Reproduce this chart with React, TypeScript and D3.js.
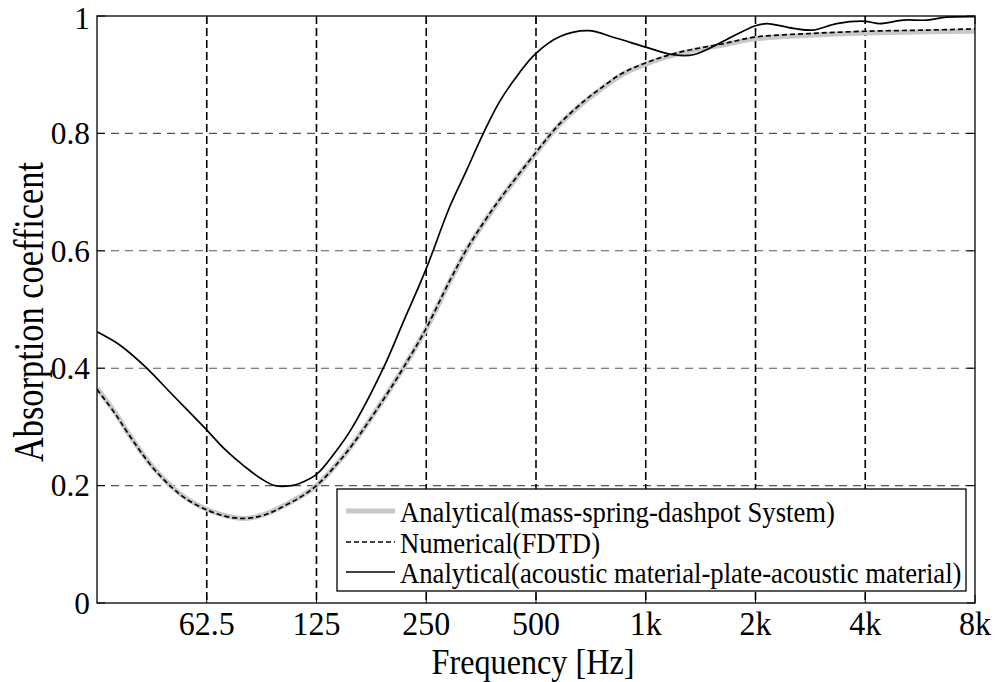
import React from "react";
import * as d3 from "d3";

const xTicks = [62.5, 125, 250, 500, 1000, 2000, 4000, 8000];
const xTickLabels = ["62.5", "125", "250", "500", "1k", "2k", "4k", "8k"];
const yTicks = [0, 0.2, 0.4, 0.6, 0.8, 1];
const yTickLabels = ["0", "0.2", "0.4", "0.6", "0.8", "1"];

const seriesNames = [
  "Analytical(mass-spring-dashpot System)",
  "Numerical(FDTD)",
  "Analytical(acoustic material-plate-acoustic material)",
];

const massSpring: [number, number][] = [
  [31.25, 0.366], [35, 0.325], [38.1, 0.289], [44, 0.235], [50.1, 0.198], [55, 0.178],
  [61.8, 0.161], [70, 0.149], [79.6, 0.144], [90, 0.151], [100.3, 0.164], [112.7, 0.181],
  [125, 0.2], [140, 0.232], [157, 0.27], [190, 0.345], [216, 0.4], [249, 0.465],
  [290, 0.548], [323, 0.602], [360, 0.648], [398, 0.687], [499, 0.766], [582, 0.816],
  [680, 0.854], [749, 0.874], [860, 0.9], [999, 0.918], [1216, 0.935], [1668, 0.952],
  [1990, 0.961], [2800, 0.967], [3988, 0.971], [5897, 0.973], [8000, 0.974],
];

const numericalFDTD: [number, number][] = [
  [31.25, 0.364], [35, 0.323], [38.1, 0.288], [44, 0.234], [50.1, 0.197], [55, 0.177],
  [61.8, 0.16], [70, 0.148], [79.6, 0.144], [90, 0.15], [100.3, 0.163], [112.7, 0.18],
  [125, 0.2], [140, 0.232], [157, 0.27], [190, 0.345], [216, 0.4], [249, 0.466],
  [290, 0.549], [323, 0.603], [360, 0.649], [398, 0.688], [499, 0.767], [582, 0.817],
  [680, 0.856], [749, 0.876], [860, 0.902], [999, 0.92], [1216, 0.937], [1668, 0.954],
  [1990, 0.964], [2800, 0.97], [3988, 0.974], [5897, 0.976], [8000, 0.978],
];

const plateModel: [number, number][] = [
  [31.25, 0.462], [36, 0.44], [42.3, 0.403], [50.1, 0.356], [61.8, 0.298], [70, 0.262],
  [79.6, 0.232], [88, 0.212], [96.2, 0.2], [106.9, 0.2], [112.7, 0.204], [125, 0.219],
  [140, 0.255], [156, 0.297], [190.6, 0.4], [216, 0.478], [249, 0.567], [290, 0.675],
  [323, 0.738], [358.5, 0.8], [398, 0.855], [450, 0.903], [499, 0.936], [582, 0.965],
  [696, 0.975], [832, 0.962], [999, 0.947], [1190, 0.934], [1350, 0.934], [1668, 0.96],
  [1990, 0.983], [2147, 0.987], [2540, 0.979], [2882, 0.976], [3340, 0.987], [3988, 0.991],
  [4390, 0.987], [5088, 0.993], [5897, 0.993], [6690, 0.998], [8000, 0.999],
];

const W = 1001;
const H = 682;
const L = 97;
const R = 975;
const T = 16;
const B = 603;
const FONT = "'Liberation Serif', 'Times New Roman', serif";

function SText(props: {
  x: number;
  y: number;
  sx: number;
  size: number;
  anchor?: string;
  rotate?: number;
  dy?: string;
  children: React.ReactNode;
}) {
  const { x, y, sx, size, anchor, rotate, dy, children } = props;
  return (
    <text
      transform={`translate(${x},${y})${rotate ? ` rotate(${rotate})` : ""} scale(${sx},1)`}
      textAnchor={anchor || "start"}
      fontSize={size}
      dy={dy}
      fill="#000"
    >
      {children}
    </text>
  );
}

export default function App() {
  const x = d3.scaleLog().domain([31.25, 8000]).range([L, R]);
  const y = d3.scaleLinear().domain([0, 1]).range([B, T]);
  const line = d3
    .line<[number, number]>()
    .x((d) => x(d[0]))
    .y((d) => y(d[1]))
    .curve(d3.curveCatmullRom.alpha(0.5));

  const legX = 337;
  const legY = 489;
  const legW = 629;
  const legH = 102;
  const rowY = [511, 542, 572];
  const ySize = 32;

  return (
    <svg
      width={W}
      height={H}
      style={{ position: "absolute", left: 0, top: 0, background: "#fff" }}
      fontFamily={FONT}
    >
      <defs>
        <clipPath id="plotclip">
          <rect x={L} y={T} width={R - L} height={B - T} />
        </clipPath>
      </defs>
      <rect x={0} y={0} width={W} height={H} fill="#fff" />
      {yTicks.slice(1, -1).map((v) => (
        <line
          key={"hg" + v}
          x1={L}
          x2={R}
          y1={y(v)}
          y2={y(v)}
          stroke="#555"
          strokeWidth={1.1}
          strokeDasharray="8,6"
        />
      ))}
      {xTicks.slice(0, -1).map((v) => (
        <line
          key={"vg" + v}
          x1={x(v)}
          x2={x(v)}
          y1={T}
          y2={B}
          stroke="#000"
          strokeWidth={1.6}
          strokeDasharray="8,4"
        />
      ))}
      <g clipPath="url(#plotclip)" fill="none">
        <path d={line(massSpring) || ""} stroke="#c8c8c8" strokeWidth={5} />
        <path d={line(numericalFDTD) || ""} stroke="#000" strokeWidth={1.7} strokeDasharray="5,3" />
        <path d={line(plateModel) || ""} stroke="#000" strokeWidth={1.7} />
      </g>
      {xTicks.map((v) => (
        <g key={"xt" + v}>
          <line x1={x(v)} x2={x(v)} y1={B} y2={B - 8} stroke="#000" strokeWidth={1} />
          <line x1={x(v)} x2={x(v)} y1={T} y2={T + 8} stroke="#000" strokeWidth={1} />
        </g>
      ))}
      {yTicks.map((v) => (
        <g key={"yt" + v}>
          <line x1={L} x2={L + 8} y1={y(v)} y2={y(v)} stroke="#000" strokeWidth={1} />
          <line x1={R} x2={R - 8} y1={y(v)} y2={y(v)} stroke="#000" strokeWidth={1} />
        </g>
      ))}
      <rect x={L} y={T} width={R - L} height={B - T} fill="none" stroke="#000" strokeWidth={1.3} />
      {xTicks.map((v, i) => (
        <SText key={"xl" + v} x={x(v)} y={635} sx={0.94} size={34} anchor="middle">
          {xTickLabels[i]}
        </SText>
      ))}
      {yTicks.map((v, i) => (
        <SText
          key={"yl" + v}
          x={90}
          y={Math.max(y(v) + 0.338 * ySize, 0.9 * ySize)}
          sx={0.98}
          size={ySize}
          anchor="end"
        >
          {yTickLabels[i]}
        </SText>
      ))}
      <SText x={533} y={674} sx={0.92} size={35} anchor="middle">
        Frequency [Hz]
      </SText>
      <SText x={43} y={312} sx={0.8} size={43} anchor="middle" rotate={-90}>
        Absorption coefficent
      </SText>
      <rect x={legX} y={legY} width={legW} height={legH} fill="#fff" stroke="#000" strokeWidth={1.3} />
      <line x1={346} x2={395} y1={rowY[0]} y2={rowY[0]} stroke="#c8c8c8" strokeWidth={5} />
      <line x1={346} x2={395} y1={rowY[1]} y2={rowY[1]} stroke="#000" strokeWidth={1.7} strokeDasharray="5,3" />
      <line x1={346} x2={395} y1={rowY[2]} y2={rowY[2]} stroke="#000" strokeWidth={1.7} />
      {seriesNames.map((n, i) => (
        <SText key={n} x={400} y={rowY[i]} dy="0.35em" sx={0.89} size={30}>
          {n}
        </SText>
      ))}
    </svg>
  );
}
